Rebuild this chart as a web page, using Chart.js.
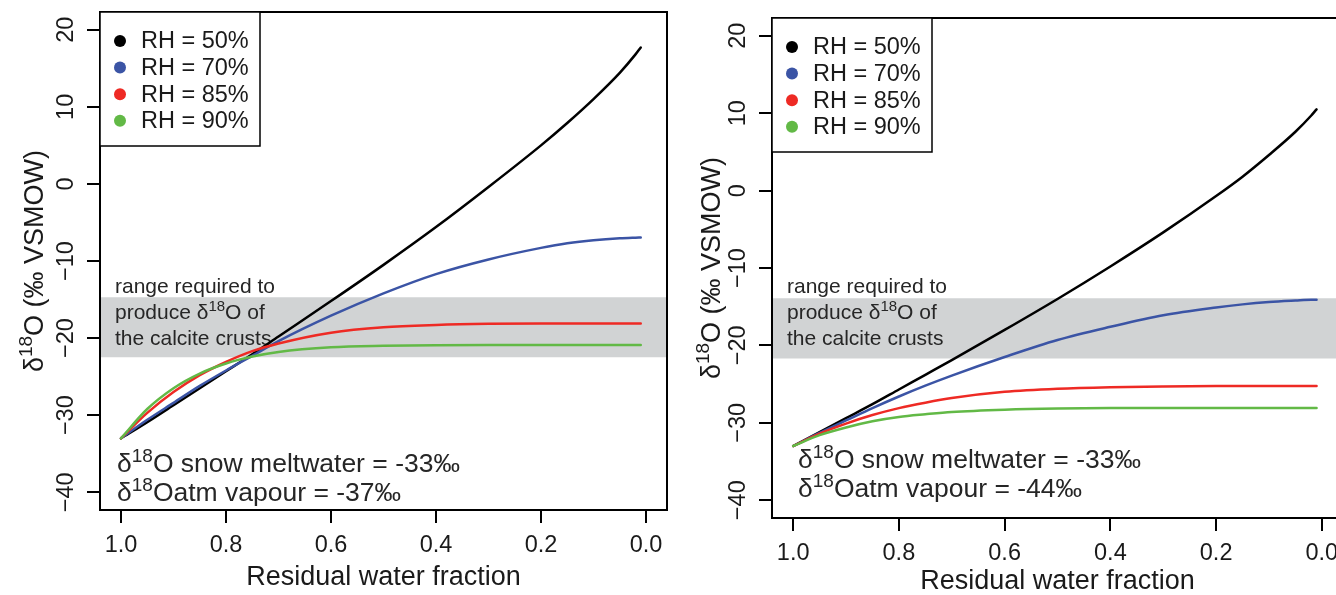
<!DOCTYPE html>
<html>
<head>
<meta charset="utf-8">
<script src="https://cdn.jsdelivr.net/npm/chart.js@4.4.1/dist/chart.umd.min.js"></script>
<style>
html, body { margin: 0; padding: 0; overflow: hidden; background: #fff; width: 1336px; height: 595px; }
.panel { position: absolute; top: 0; height: 595px; }
#p1 { left: 0; width: 690px; }
#p2 { left: 690px; width: 680px; }
</style>
</head>
<body>
<div class="panel" id="p1"><canvas id="c1"></canvas></div>
<div class="panel" id="p2"><canvas id="c2"></canvas></div>
<script>
// residual water fraction (x) shared by every curve
var fraction = [1.0, 0.95, 0.9, 0.85, 0.8, 0.75, 0.7, 0.6, 0.5, 0.4, 0.3, 0.2, 0.15, 0.1, 0.05, 0.02, 0.01];
var rhLabels = ['RH = 50%', 'RH = 70%', 'RH = 85%', 'RH = 90%'];
var rhColors = ['#000000', '#3b54a5', '#ee2a24', '#62b946'];

// left panel: atm vapour -37 permil
var rh50Left = [-33, -30.9, -28.7, -26.5, -24.3, -22.1, -19.8, -15.2, -10.5, -5.6, -0.4, 5.0, 7.9, 11.0, 14.4, 16.8, 17.7];
var rh70Left = [-33, -30.6, -28.4, -26.2, -24.2, -22.3, -20.4, -17.1, -14.2, -11.7, -9.8, -8.3, -7.7, -7.3, -7.05, -6.97, -6.95];
var rh85Left = [-33, -29.7, -27.0, -24.8, -23.1, -21.7, -20.7, -19.3, -18.6, -18.3, -18.15, -18.1, -18.1, -18.1, -18.1, -18.1, -18.1];
var rh90Left = [-33, -29.2, -26.5, -24.6, -23.3, -22.4, -21.8, -21.2, -21.0, -20.92, -20.9, -20.9, -20.9, -20.9, -20.9, -20.9, -20.9];
var bandLeft = [-14.7, -22.5];

// right panel: atm vapour -44 permil
var rh50Right = [-33, -31.2, -29.4, -27.6, -25.7, -23.8, -21.9, -18.0, -14.0, -9.8, -5.4, -0.7, 1.8, 4.6, 7.6, 9.7, 10.5];
var rh70Right = [-33, -31.3, -29.7, -28.1, -26.6, -25.2, -23.9, -21.5, -19.3, -17.6, -16.1, -15.1, -14.7, -14.4, -14.2, -14.1, -14.1];
var rh85Right = [-33, -31.4, -30.1, -29.0, -28.1, -27.4, -26.8, -26.0, -25.6, -25.4, -25.3, -25.25, -25.25, -25.25, -25.25, -25.25, -25.25];
var rh90Right = [-33, -31.6, -30.6, -29.8, -29.25, -28.9, -28.6, -28.3, -28.15, -28.1, -28.1, -28.1, -28.1, -28.1, -28.1, -28.1, -28.1];
var bandRight = [-13.9, -21.7];

var xTicks = [1.0, 0.8, 0.6, 0.4, 0.2, 0.0];
var yTicks = [-40, -30, -20, -10, 0, 10, 20];

var FONT = "'Liberation Sans', Arial, Helvetica, sans-serif";
Chart.defaults.font.family = FONT;
Chart.defaults.color = '#1a1a1a';

// "a^18^b" -> runs, odd pieces are superscript
function parseRuns(str) {
    return str.split('^').map(function (t, i) { return { t: t, sup: i % 2 === 1 }; });
}

function textRun(ctx, runs, x, y, size, measureOnly) {
    var cx = x;
    runs.forEach(function (r) {
        var s = r.sup ? Math.round(size * 0.72) : size;
        ctx.font = s + 'px ' + FONT;
        if (!measureOnly) ctx.fillText(r.t, cx, r.sup ? y - size * 0.36 : y);
        cx += ctx.measureText(r.t).width;
    });
    return cx - x;
}

var decorPlugin = {
    id: 'decor',
    afterDatasetDraw: function (chart, args, opts) {
        // notes go right after the grey band, below the curves
        if (chart.data.datasets[args.index].label !== 'band') return;
        var ctx = chart.ctx;
        ctx.save();
        ctx.fillStyle = '#262626';
        ctx.textBaseline = 'alphabetic';
        ctx.textAlign = 'left';
        opts.notes.forEach(function (n) { textRun(ctx, parseRuns(n.text), n.x, n.y, n.size); });
        ctx.restore();
    },
    afterDraw: function (chart, args, opts) {
        var ctx = chart.ctx, a = chart.chartArea;
        ctx.save();
        ctx.strokeStyle = '#000';
        ctx.lineWidth = 2;
        ctx.strokeRect(a.left, a.top, a.right - a.left, a.bottom - a.top);

        // legend box
        var lw = opts.legendW, lh = opts.legendH;
        ctx.fillStyle = '#fff';
        ctx.fillRect(a.left, a.top, lw, lh);
        ctx.lineWidth = 1.5;
        ctx.strokeRect(a.left, a.top, lw, lh);
        ctx.textBaseline = 'middle';
        ctx.textAlign = 'left';
        ctx.font = '23.5px ' + FONT;
        chart.data.datasets.filter(function (d) { return d.label !== 'band'; }).forEach(function (d, i) {
            var yy = a.top + 29 + i * 26.6;
            ctx.fillStyle = d.borderColor;
            ctx.beginPath();
            ctx.arc(a.left + 20, yy, 6, 0, Math.PI * 2);
            ctx.fill();
            ctx.fillStyle = '#1a1a1a';
            ctx.fillText(d.label, a.left + 41, yy + 1);
        });

        // y axis title with superscript
        var runs = parseRuns('\u03b4^18^O (\u2030 VSMOW)');
        ctx.translate(opts.yTitleX, (a.top + a.bottom) / 2);
        ctx.rotate(-Math.PI / 2);
        ctx.fillStyle = '#1a1a1a';
        var w = textRun(ctx, runs, 0, 0, 27, true);
        textRun(ctx, runs, -w / 2, 9, 27);
        ctx.restore();
    }
};

function points(ys) {
    return fraction.map(function (f, i) { return { x: f, y: ys[i] }; });
}

function makeChart(id, series, band, L) {
    var datasets = series.map(function (ys, i) {
        return {
            label: rhLabels[i],
            data: points(ys),
            borderColor: rhColors[i],
            backgroundColor: rhColors[i],
            borderWidth: 2.5,
            pointRadius: 0,
            cubicInterpolationMode: 'monotone',
            borderCapStyle: 'round',
            fill: false,
            order: 4 - i
        };
    });
    datasets.push({
        label: 'band',
        data: [{ x: -0.2, y: band[0] }, { x: 1.2, y: band[0] }],
        borderWidth: 0,
        pointRadius: 0,
        backgroundColor: '#d1d3d4',
        fill: { value: band[1] },
        order: 5
    });

    return new Chart(document.getElementById(id).getContext('2d'), {
        type: 'line',
        data: { datasets: datasets },
        options: {
            responsive: true,
            maintainAspectRatio: false,
            animation: false,
            devicePixelRatio: 1,
            layout: { padding: { top: L.top, right: L.right, left: 0, bottom: 0 } },
            plugins: {
                legend: { display: false },
                tooltip: { enabled: false },
                decor: { notes: L.notes, legendW: 160, legendH: 134, yTitleX: L.yTitleX }
            },
            scales: {
                x: {
                    type: 'linear',
                    reverse: true,
                    min: -0.04,
                    max: 1.04,
                    afterBuildTicks: function (s) { s.ticks = xTicks.map(function (v) { return { value: v }; }); },
                    afterFit: function (s) { s.height = L.xh; s.paddingLeft = 0; s.paddingRight = 0; },
                    grid: { display: true, drawOnChartArea: false, drawTicks: true, tickLength: 13, color: '#000', lineWidth: 2 },
                    border: { display: false },
                    ticks: {
                        autoSkip: false, maxRotation: 0, padding: 8,
                        font: { size: 23.5 }, color: '#1a1a1a',
                        callback: function (v) { return v.toFixed(1); }
                    },
                    title: {
                        display: true, text: 'Residual water fraction',
                        font: { size: 27 }, color: '#1a1a1a',
                        padding: { top: 0, bottom: L.titlePad }
                    }
                },
                y: {
                    type: 'linear',
                    min: -42.3,
                    max: 22.3,
                    afterBuildTicks: function (s) { s.ticks = yTicks.map(function (v) { return { value: v }; }); },
                    afterFit: function (s) { s.width = L.yw; s.paddingTop = 0; s.paddingBottom = 0; },
                    grid: { display: true, drawOnChartArea: false, drawTicks: true, tickLength: 13, color: '#000', lineWidth: 2 },
                    border: { display: false },
                    ticks: {
                        autoSkip: false, minRotation: 90, maxRotation: 90, crossAlign: 'center', padding: 1,
                        font: { size: 23.5 }, color: '#1a1a1a',
                        callback: function (v) { return v < 0 ? '\u2212' + (-v) : String(v); }
                    }
                }
            }
        },
        plugins: [decorPlugin]
    });
}

makeChart('c1', [rh50Left, rh70Left, rh85Left, rh90Left], bandLeft, {
    top: 12, right: 23, yw: 100, xh: 85, titlePad: 1, yTitleX: 27,
    notes: [
        { text: 'range required to', x: 115, y: 293, size: 21 },
        { text: 'produce \u03b4^18^O of', x: 115, y: 319, size: 21 },
        { text: 'the calcite crusts', x: 115, y: 345, size: 21 },
        { text: '\u03b4^18^O snow meltwater = -33\u2030', x: 117, y: 472, size: 26.5 },
        { text: '\u03b4^18^Oatm vapour = -37\u2030', x: 117, y: 501, size: 26.5 }
    ]
});

makeChart('c2', [rh50Right, rh70Right, rh85Right, rh90Right], bandRight, {
    top: 18, right: 27, yw: 82, xh: 77, titlePad: -3, yTitleX: 14,
    notes: [
        { text: 'range required to', x: 97, y: 293, size: 21 },
        { text: 'produce \u03b4^18^O of', x: 97, y: 319, size: 21 },
        { text: 'the calcite crusts', x: 97, y: 345, size: 21 },
        { text: '\u03b4^18^O snow meltwater = -33\u2030', x: 108, y: 468, size: 26.5 },
        { text: '\u03b4^18^Oatm vapour = -44\u2030', x: 108, y: 497, size: 26.5 }
    ]
});
</script>
</body>
</html>
